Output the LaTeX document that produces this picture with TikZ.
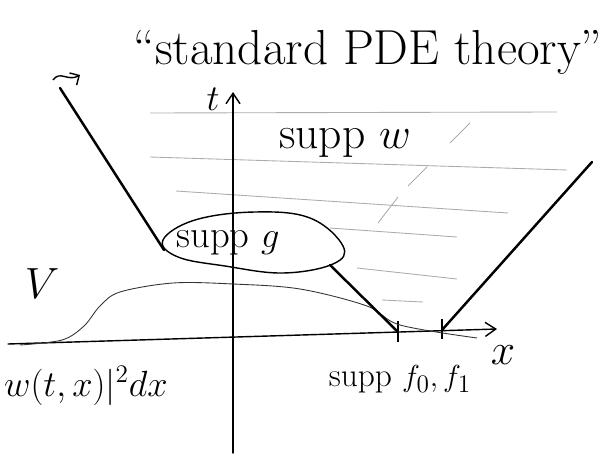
\documentclass[tikz,border=0pt]{standalone}
\usetikzlibrary{arrows.meta}
\tikzset{
  axis/.style={-{Straight Barb[length=6pt,width=8pt]}, thick, line cap=round},
  cone/.style={line width=1.4pt, line cap=round},
  blob/.style={thick},
  hatch/.style={gray!65, line width=0.5pt},
  curveV/.style={gray!40!black, line width=0.5pt},
  hand/.style={font=\fontsize{#1}{#1}\selectfont, inner sep=1pt},
  hand/.default=20,
  title/.style={font=\fontsize{28}{30}\selectfont, inner sep=0pt},
}
\begin{document}
\begin{tikzpicture}[x=0.02cm, y=-0.02cm]
  \useasboundingbox (0,0) rectangle (615,456);

  % hatching of the support
  \draw[hatch] (150,113) -- (557,112);
  \draw[hatch] (150,157) -- (567,170);
  \draw[hatch] (176,191) -- (508,213);
  \draw[hatch] (330,228) -- (457,237);
  \draw[hatch] (357,268) -- (457,279);
  \draw[hatch] (382,300) -- (423,302);
  \draw[hatch] (450,143) -- (470,123);
  \draw[hatch] (408,186) -- (427,167);
  \draw[hatch] (378,223) -- (398,197);

  % axes
  \coordinate (xs) at (8,344);
  \coordinate (xe) at (497,329);
  \coordinate (ts) at (233,453);
  \coordinate (te) at (233,92);
  \draw[axis] (xs) -- (xe);
  \draw[axis] (ts) -- (te);
  \node[hand=22] (tlab) at (213,99) {$t$};
  \node[hand=26] (xlab) at (503,355) {$x$};

  % ticks
  \coordinate (f0) at (398,332);
  \coordinate (f1) at (442,330);
  \draw[thick] (398,321) -- (398,342);
  \draw[thick] (442,319) -- (442,339);
  \node[hand=19] (supf) at (400,379) {supp $f_0,f_1$};

  % the energy profile
  \draw[curveV] plot[smooth, tension=0.55] coordinates
    {(20,345) (62,340) (84,326) (100,306) (120,292) (173,283) (233,284) (300,289)
     (367,306) (400,325) (477,338)};
  \node[hand=26] (Vlab) at (42,284) {$V$};
  \node[hand=21, anchor=west] (enlab) at (2,386) {$w(t,x)|^2dx$};

  % support of g
  \draw[blob] plot[smooth cycle, tension=0.65] coordinates
    {(163,240) (195,220) (255,212) (310,218) (343,246) (333,264) (283,273)
     (225,266) (178,257)};
  \node[hand=22] (suppg) at (228,243) {supp $g$};

  % cone boundaries
  \coordinate (Ltop) at (60,88);
  \coordinate (Lbot) at (164,250);
  \coordinate (Mtop) at (330,265);
  \coordinate (Rtop) at (592,162);
  \draw[cone] (Ltop) -- (Lbot);
  \draw[cone] (Mtop) -- (f0);
  \draw[cone] (f1) -- (Rtop);
  \draw[thick, -{Straight Barb[length=4pt]}] (53,80)
    .. controls (60,70) and (68,82) .. (80,75);

  % labels
  \node[hand=26] (suppw) at (345,143) {supp $w$};
  \node[title] (ttl) at (368,52) {``standard PDE theory''};
\end{tikzpicture}
\end{document}
